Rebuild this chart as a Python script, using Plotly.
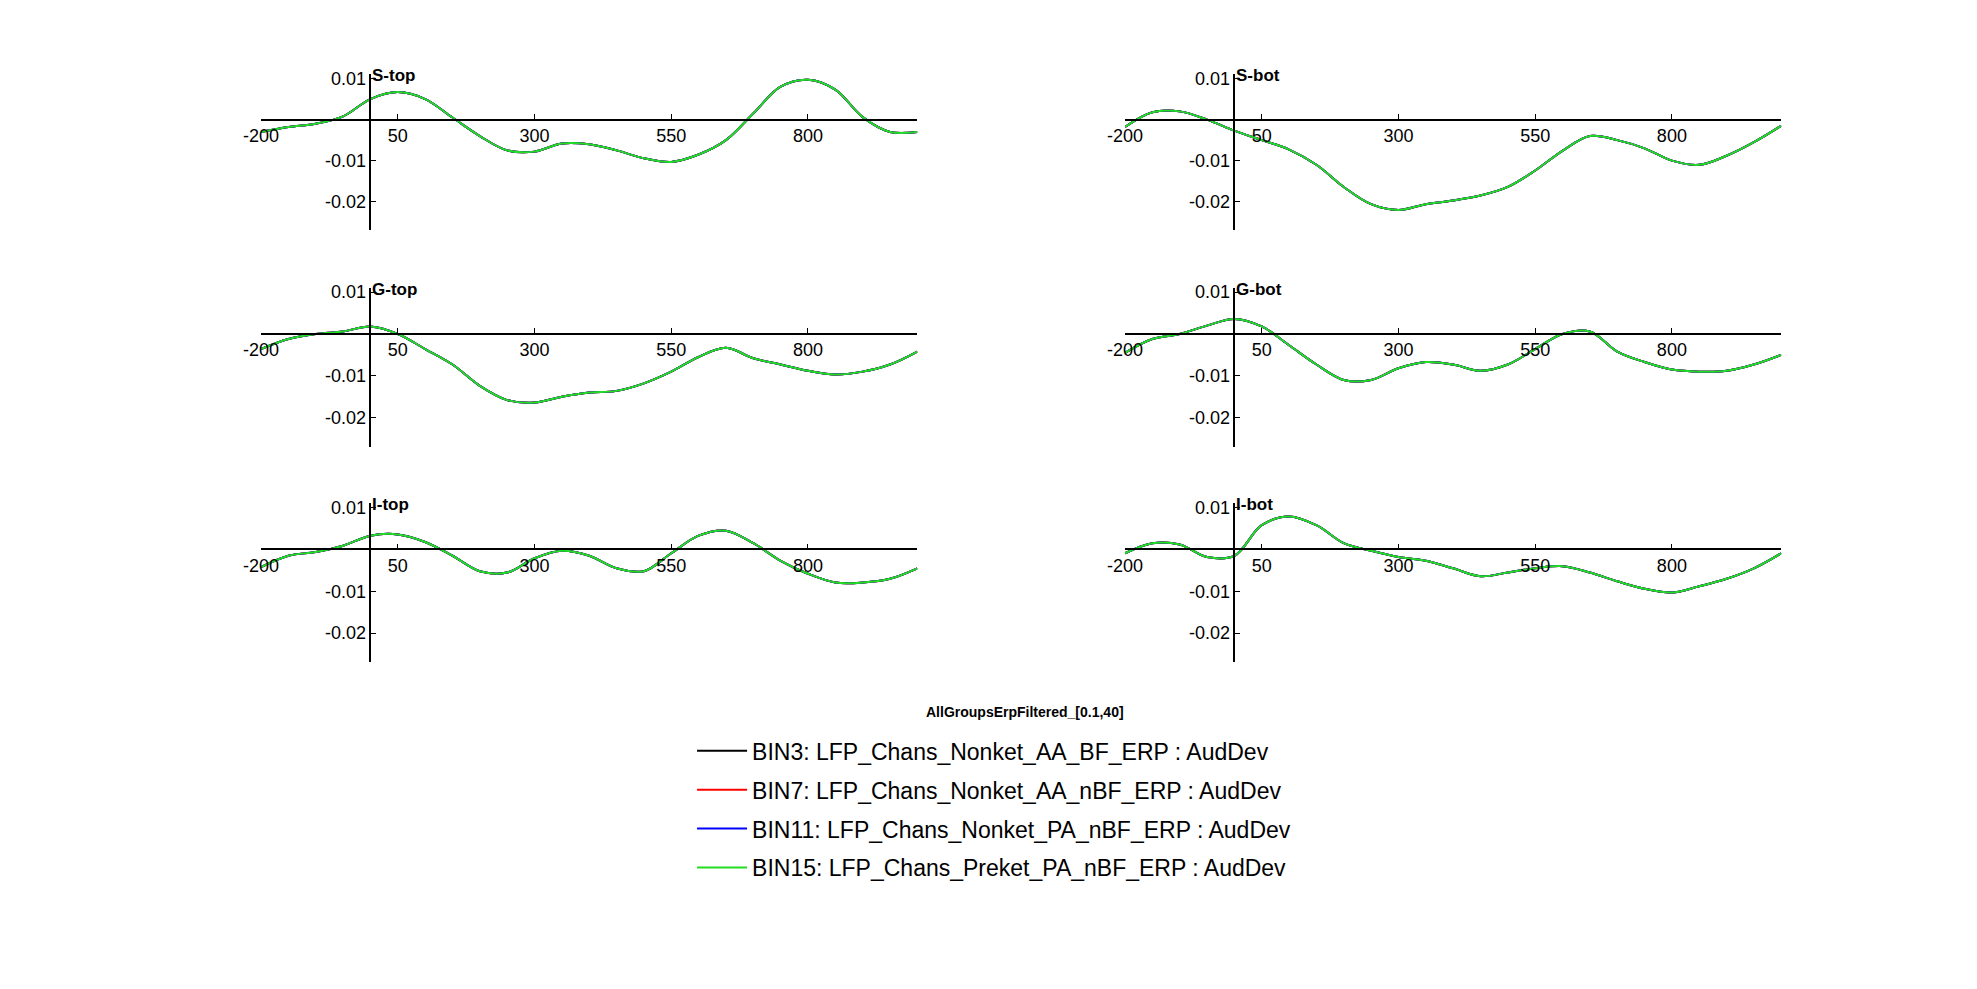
import plotly.graph_objects as go

# time axis (ms)
times = list(range(-200, 1001, 50))

panel_names = ["S-top", "S-bot", "G-top", "G-bot", "I-top", "I-bot"]

s_top = [-0.003, -0.0018, -0.001, 0.0008, 0.005, 0.0067, 0.005, 0.0005, -0.004, -0.0075,
         -0.0078, -0.0058, -0.006, -0.0075, -0.0094, -0.0103, -0.0085, -0.005, 0.0015,
         0.008, 0.0097, 0.0073, 0.0006, -0.003, -0.003]
s_bot = [-0.0018, 0.0018, 0.002, 0.0, -0.0027, -0.005, -0.0073, -0.011, -0.0164, -0.0206,
         -0.022, -0.0206, -0.0197, -0.0185, -0.0164, -0.0124, -0.0076, -0.004, -0.005,
         -0.007, -0.01, -0.011, -0.0088, -0.0055, -0.0015]
g_top = [-0.0036, -0.0012, 0.0, 0.0006, 0.0018, 0.0, -0.0036, -0.0073, -0.0124, -0.0158,
         -0.0164, -0.015, -0.014, -0.0136, -0.0118, -0.009, -0.0055, -0.0033, -0.0058,
         -0.0073, -0.0088, -0.0097, -0.009, -0.0073, -0.0042]
g_bot = [-0.0045, -0.0012, 0.0, 0.002, 0.0036, 0.0018, -0.0027, -0.0073, -0.011, -0.011,
         -0.0082, -0.0067, -0.0073, -0.0088, -0.0073, -0.0036, 0.0, 0.0006, -0.0042,
         -0.0067, -0.0085, -0.009, -0.0088, -0.0073, -0.005]
i_top = [-0.0042, -0.0015, -0.0006, 0.0009, 0.0033, 0.0036, 0.0018, -0.0015, -0.0052,
         -0.0055, -0.0021, -0.0003, -0.0015, -0.0045, -0.0052, -0.0009, 0.0033, 0.0045,
         0.0015, -0.0027, -0.0058, -0.0079, -0.0079, -0.007, -0.0045]
i_bot = [-0.0009, 0.0015, 0.0012, -0.0018, -0.0015, 0.0058, 0.0079, 0.0058, 0.0015,
         -0.0003, -0.0018, -0.0027, -0.0045, -0.0064, -0.0055, -0.0045, -0.004, -0.0055,
         -0.0076, -0.0094, -0.0103, -0.0088, -0.007, -0.0045, -0.0009]
panel_data = [s_top, s_bot, g_top, g_bot, i_top, i_bot]

bin_names = [
    "BIN3: LFP_Chans_Nonket_AA_BF_ERP : AudDev",
    "BIN7: LFP_Chans_Nonket_AA_nBF_ERP : AudDev",
    "BIN11: LFP_Chans_Nonket_PA_nBF_ERP : AudDev",
    "BIN15: LFP_Chans_Preket_PA_nBF_ERP : AudDev",
]
bin_colors = ["#000000", "#ff0000", "#0000ff", "#22dd22"]

x_ticks = [-200, 50, 300, 550, 800]
x_tick_text = ["-200", "50", "300", "550", "800"]
y_ticks = [0.01, -0.01, -0.02]
y_tick_text = ["0.01", "-0.01", "-0.02"]

# layout (paper fractions)
col_dom = [(0.120, 0.455), (0.561, 0.896)]
row_dom = [(0.779, 0.938), (0.559, 0.721), (0.340, 0.502)]
x_range = [-200, 1000]
y_range = [-0.027, 0.0111]

FONT = "Liberation Sans, Arial"

fig = go.Figure()
layout = {}
annotations = []

for i, (name, vals) in enumerate(zip(panel_names, panel_data)):
    r, c = divmod(i, 2)
    n = i + 1
    xa = "xaxis" if n == 1 else f"xaxis{n}"
    ya = "yaxis" if n == 1 else f"yaxis{n}"
    xd, yd = col_dom[c], row_dom[r]
    # where y=0 and x=0 fall in paper coords
    y0 = yd[0] + (0 - y_range[0]) / (y_range[1] - y_range[0]) * (yd[1] - yd[0])
    x0 = xd[0] + (0 - x_range[0]) / (x_range[1] - x_range[0]) * (xd[1] - xd[0])
    layout[xa] = dict(domain=list(xd), range=x_range, anchor="free", position=y0,
                      showline=True, linecolor="black", linewidth=1.5, showgrid=False,
                      zeroline=False, tickvals=x_ticks, ticktext=x_tick_text,
                      ticks="inside", ticklen=5, tickcolor="black",
                      tickfont=dict(size=18, color="black"))
    layout[ya] = dict(domain=list(yd), range=y_range, anchor="free", position=x0,
                      showline=True, linecolor="black", linewidth=1.5, showgrid=False,
                      zeroline=False, tickvals=y_ticks, ticktext=y_tick_text,
                      ticks="inside", ticklen=5, tickcolor="black",
                      tickfont=dict(size=18, color="black"))
    for k, (bn, bc) in enumerate(zip(bin_names, bin_colors)):
        fig.add_trace(go.Scatter(
            x=times, y=vals, mode="lines", line=dict(color=bc, width=2, shape="spline"),
            name=bn, legendgroup=bn, showlegend=(i == 0),
            xaxis=f"x{n}" if n > 1 else "x", yaxis=f"y{n}" if n > 1 else "y",
        ))
    annotations.append(dict(x=x0, y=yd[1] + 0.01, xref="paper", yref="paper",
                            text=f"<b>{name}</b>", showarrow=False,
                            xanchor="left", yanchor="top",
                            font=dict(size=17, color="black", family=FONT)))

annotations.append(dict(x=0.51, y=0.279, xref="paper", yref="paper",
                        text="<b>AllGroupsErpFiltered_[0.1,40]</b>", showarrow=False,
                        font=dict(size=14, color="black", family=FONT)))

fig.update_layout(
    **layout,
    annotations=annotations,
    width=1977, height=989,
    margin=dict(l=0, r=0, t=0, b=0),
    paper_bgcolor="white", plot_bgcolor="white",
    font=dict(family=FONT, color="black"),
    legend=dict(x=0.34, y=0.272, xanchor="left", yanchor="top",
                font=dict(size=23, color="black"), tracegroupgap=6, itemwidth=50,
                bgcolor="rgba(0,0,0,0)"),
)

fig.write_html("out.html")
